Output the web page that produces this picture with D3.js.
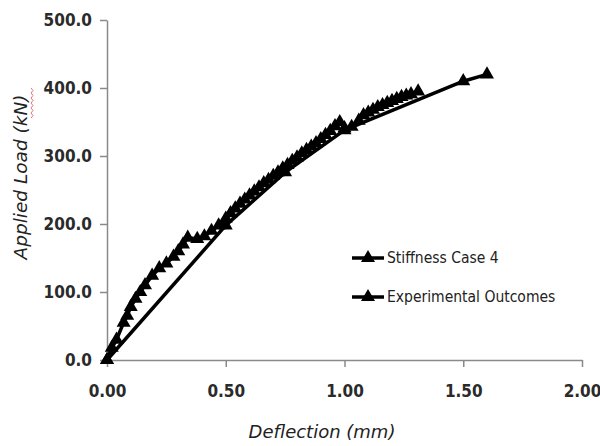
<!DOCTYPE html>
<html>
<head>
<meta charset="utf-8">
<script src="https://cdn.jsdelivr.net/npm/d3@7"></script>
<style>
  body { margin: 0; background: #fff; }
  .tick text { font-family: "DejaVu Sans Condensed", "DejaVu Sans", sans-serif; font-weight: bold; font-stretch: condensed; }
</style>
</head>
<body>
<div id="canvas"></div>
<script>
// deflection (mm) / applied load (kN)
const stiffDefl = [0, 0.5, 0.75, 1.0, 1.5, 1.6];
const stiffLoad = [0, 198, 276, 338, 410, 420];

const expDefl = [0, 0.02, 0.04, 0.07, 0.085, 0.10, 0.12, 0.14, 0.16, 0.19, 0.22, 0.25, 0.28, 0.30, 0.32, 0.34,
  0.38, 0.41, 0.44, 0.47, 0.50, 0.52, 0.54, 0.56, 0.58, 0.60, 0.62, 0.64, 0.66, 0.68, 0.70, 0.72, 0.74, 0.76,
  0.78, 0.80, 0.82, 0.84, 0.86, 0.88, 0.90, 0.92, 0.94, 0.96, 0.98, 1.00, 1.03, 1.06, 1.08, 1.10, 1.12, 1.14,
  1.16, 1.18, 1.20, 1.22, 1.24, 1.26, 1.28, 1.31];
const expLoad = [0, 18, 30, 55, 65, 78, 90, 100, 110, 124, 135, 142, 152, 160, 170, 180,
  178, 182, 190, 198, 208, 216, 223, 230, 236, 242, 248, 254, 260, 265, 271, 276, 282, 287,
  293, 298, 304, 309, 314, 319, 325, 331, 337, 344, 350, 341, 343, 352, 360, 364, 368, 372,
  375, 378, 381, 384, 387, 389, 391, 395];

const xTicks = [0, 0.5, 1.0, 1.5, 2.0];
const yTicks = [0, 100, 200, 300, 400, 500];
const seriesNames = ["Stiffness Case 4", "Experimental Outcomes"];

const width = 600, height = 446;
const margin = { top: 20, left: 107, bottom: 86, right: 18 };

const svg = d3.select("#canvas").append("svg")
  .attr("width", width)
  .attr("height", height);

const x = d3.scaleLinear().domain([0, 2]).range([margin.left, width - margin.right]);
const y = d3.scaleLinear().domain([0, 500]).range([height - margin.bottom, margin.top]);

// axes
const xAxis = svg.append("g")
  .attr("transform", `translate(0,${y(0)})`)
  .call(d3.axisBottom(x).tickValues(xTicks).tickFormat(d3.format(".2f")).tickSize(7).tickPadding(18).tickSizeOuter(0));
const yAxis = svg.append("g")
  .attr("transform", `translate(${x(0)},0)`)
  .call(d3.axisLeft(y).tickValues(yTicks).tickFormat(d3.format(".1f")).tickSize(7).tickPadding(8).tickSizeOuter(0));

[xAxis, yAxis].forEach(a => {
  a.select(".domain").attr("stroke", "#8a8a8a").attr("stroke-width", 1.5);
  a.selectAll(".tick line").attr("stroke", "#8a8a8a").attr("stroke-width", 1.5);
  a.selectAll(".tick text").attr("fill", "#2a2a2a").style("font-size", "17px");
});

// axis titles
svg.append("text")
  .attr("x", 322).attr("y", 438)
  .attr("text-anchor", "middle")
  .style("font-family", "DejaVu Sans, sans-serif")
  .style("font-style", "italic")
  .style("font-size", "18px")
  .attr("fill", "#222")
  .text("Deflection (mm)");

svg.append("text")
  .attr("transform", "translate(27,177) rotate(-90)")
  .attr("text-anchor", "middle")
  .style("font-family", "DejaVu Sans, sans-serif")
  .style("font-style", "italic")
  .style("font-size", "18.5px")
  .attr("fill", "#222")
  .text("Applied Load (kN)");

// spell-check squiggle under "kN"
svg.append("path")
  .attr("d", "M31,88 l2,2.5 l-2,2.5 l2,2.5 l-2,2.5 l2,2.5 l-2,2.5 l2,2.5 l-2,2.5 l2,2.5 l-2,2.5 l2,2.5 l-2,2.5")
  .attr("fill", "none").attr("stroke", "#e05050").attr("stroke-width", 0.8);

// series
const line = d3.line().x(d => x(d[0])).y(d => y(d[1]));
const tri = d3.symbol().type(d3.symbolTriangle).size(85);

const series = [
  d3.zip(stiffDefl, stiffLoad),
  d3.zip(expDefl, expLoad)
];

series.forEach(pts => {
  svg.append("path")
    .datum(pts)
    .attr("d", line)
    .attr("fill", "none")
    .attr("stroke", "#000")
    .attr("stroke-width", 3.5);
  svg.selectAll(null)
    .data(pts)
    .enter()
    .append("path")
    .attr("d", tri)
    .attr("transform", d => `translate(${x(d[0])},${y(d[1])})`)
    .attr("fill", "#000");
});

// legend
const legend = svg.selectAll(".legend")
  .data(seriesNames)
  .enter()
  .append("g")
  .attr("class", "legend")
  .attr("transform", (d, i) => `translate(352,${258 + i * 39})`);

legend.append("line")
  .attr("x1", 0).attr("x2", 32)
  .attr("stroke", "#000").attr("stroke-width", 3.5);
legend.append("path")
  .attr("d", tri)
  .attr("transform", "translate(16,0)");
legend.append("text")
  .attr("x", 35)
  .attr("dy", "0.35em")
  .style("font-family", "DejaVu Sans Condensed, DejaVu Sans, sans-serif")
  .style("font-stretch", "condensed")
  .style("font-size", "15.5px")
  .attr("fill", "#222")
  .text(d => d);
</script>
</body>
</html>
